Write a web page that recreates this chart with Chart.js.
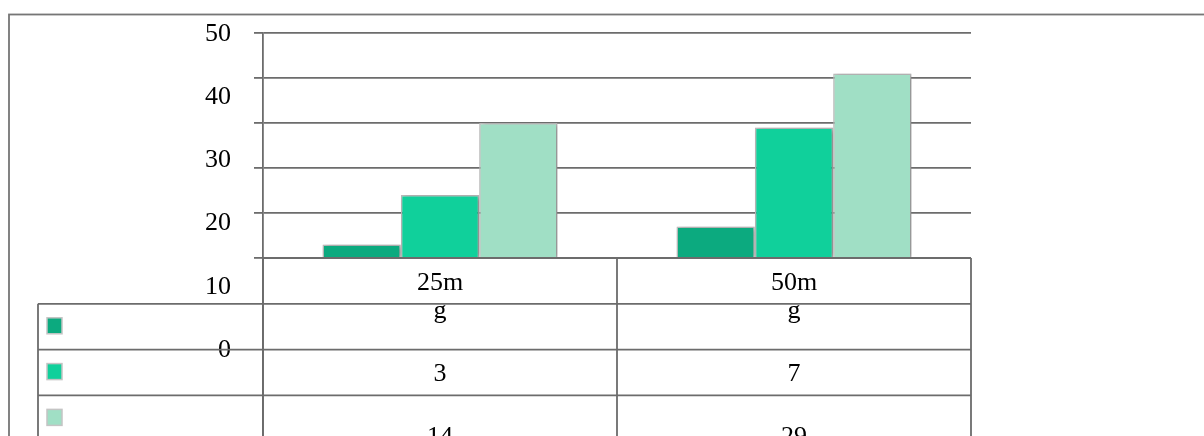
<!DOCTYPE html>
<html>
<head>
<meta charset="utf-8">
<script src="https://cdn.jsdelivr.net/npm/chart.js@4.4.1/dist/chart.umd.min.js"></script>
<style>
  html, body { margin: 0; padding: 0; background: #ffffff; }
  #wrap { position: relative; width: 1204px; height: 436px; overflow: hidden; }
  canvas { display: block; }
</style>
</head>
<body>
<div id="wrap"><canvas id="c" width="1204" height="436"></canvas></div>
<script>
// ---- data ----
const categories = ['25m', '50m'];
const seriesDark = [3, 7];
const seriesMid = [14, 29];
const seriesLight = [30, 41];
const gridTicks = [0, 10, 20, 30, 40, 50];
const labelTicks = [0, 10, 20, 30, 40, 50];
const rowOneText = ['g', 'g'];
const tableRows = [rowOneText, seriesDark, seriesMid];

const colDark = '#0caa7f';
const colMid = '#10d09b';
const colLight = '#a0dfc5';
const lineCol = '#6c6c6c';
const keyColors = [colDark, colMid, colLight];

const barShadow = {
  id: 'barShadow',
  beforeDatasetsDraw(chart) {
    const ctx = chart.ctx;
    ctx.save();
    ctx.shadowColor = 'rgba(0,0,0,0.32)';
    ctx.shadowBlur = 5;
    ctx.shadowOffsetX = 2;
    ctx.shadowOffsetY = 1;
  },
  afterDatasetsDraw(chart) { chart.ctx.restore(); }
};

const frameAndTable = {
  id: 'frameAndTable',
  afterDraw(chart) {
    const ctx = chart.ctx;
    const xs = chart.scales.x;
    const ys = chart.scales.y;
    const area = chart.chartArea;
    const y0 = ys.getPixelForValue(0);
    const rowH = 45.8;
    const left = 38;
    const xMid = (xs.getPixelForValue(0) + xs.getPixelForValue(1)) / 2;
    ctx.save();
    // outer frame
    ctx.strokeStyle = '#767676';
    ctx.lineWidth = 1.8;
    ctx.strokeRect(9, 14.5, 1300, 600);
    // table lines
    ctx.strokeStyle = lineCol;
    ctx.lineWidth = 1.8;
    ctx.beginPath();
    ctx.moveTo(area.left, y0); ctx.lineTo(area.right, y0);
    for (let r = 1; r <= 3; r++) {
      const yy = y0 + rowH * r;
      ctx.moveTo(left, yy); ctx.lineTo(area.right, yy);
    }
    ctx.moveTo(left, y0 + rowH); ctx.lineTo(left, 440);
    ctx.moveTo(area.left, y0); ctx.lineTo(area.left, 440);
    ctx.moveTo(xMid, y0); ctx.lineTo(xMid, 440);
    ctx.moveTo(area.right, y0); ctx.lineTo(area.right, 440);
    ctx.stroke();
    // header labels
    ctx.fillStyle = '#000';
    ctx.textAlign = 'center';
    ctx.textBaseline = 'alphabetic';
    ctx.font = '26px "Liberation Serif"';
    categories.forEach((c, i) => {
      ctx.fillText(c, xs.getPixelForValue(i), y0 + 32);
    });
    // rows
    const baseOffsets = [14, 31, 49];
    tableRows.forEach((row, r) => {
      const top = y0 + rowH * (r + 1);
      row.forEach((v, i) => {
        ctx.fillText(String(v), xs.getPixelForValue(i), top + baseOffsets[r]);
      });
      // legend keys
      ctx.fillStyle = keyColors[r];
      ctx.fillRect(47, top + 14, 15, 16);
      ctx.strokeStyle = '#c4c4c4';
      ctx.lineWidth = 1.5;
      ctx.strokeRect(47, top + 14, 15, 16);
      ctx.fillStyle = '#000';
    });
    ctx.restore();
  }
};

function zeroPad(s, w) {
  s.width = w;
  s.paddingTop = 0;
  s.paddingBottom = 0;
  s.paddingLeft = 0;
  s.paddingRight = 0;
}

new Chart(document.getElementById('c'), {
  type: 'bar',
  data: {
    labels: categories,
    datasets: [
      { label: 'Series 1', data: seriesDark, backgroundColor: colDark, yAxisID: 'y' },
      { label: 'Series 2', data: seriesMid, backgroundColor: colMid, yAxisID: 'y' },
      { label: 'Series 3', data: seriesLight, backgroundColor: colLight, yAxisID: 'y' }
    ]
  },
  options: {
    responsive: false,
    animation: false,
    devicePixelRatio: 1,
    layout: { padding: { left: 0, right: 233, top: 33, bottom: 0 }, autoPadding: false },
    plugins: { legend: { display: false }, tooltip: { enabled: false }, title: { display: false } },
    datasets: {
      bar: {
        categoryPercentage: 0.664,
        barPercentage: 1.0,
        borderColor: '#bdbdbd',
        borderWidth: 1.5,
        borderSkipped: 'bottom'
      }
    },
    scales: {
      x: { display: false, offset: true },
      y: {
        position: 'left',
        weight: 0,
        min: -39.56,
        max: 50,
        afterBuildTicks: s => { s.ticks = gridTicks.map(v => ({ value: v })); },
        ticks: { display: false },
        grid: { color: lineCol, lineWidth: 1.8, tickLength: 9, drawTicks: true },
        border: { display: true, color: lineCol, width: 1.8 },
        afterFit: s => zeroPad(s, 9)
      },
      yl: {
        position: 'left',
        weight: 1,
        min: -13.61,
        max: 50.16,
        afterBuildTicks: s => { s.ticks = labelTicks.map(v => ({ value: v })); },
        grid: { display: false },
        border: { display: false },
        ticks: { padding: 15, color: '#000', autoSkip: false, font: { family: 'Liberation Serif', size: 26 } },
        afterFit: s => zeroPad(s, 254)
      }
    }
  },
  plugins: [barShadow, frameAndTable]
});
</script>
</body>
</html>
